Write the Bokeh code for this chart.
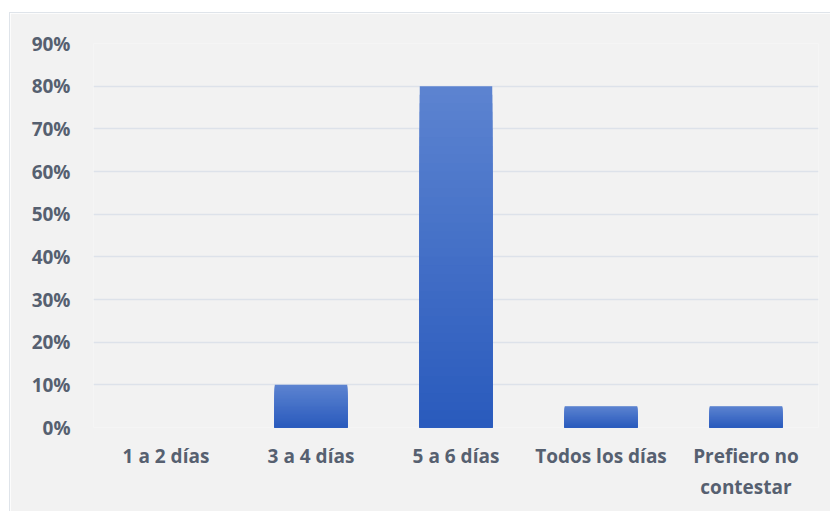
from bokeh.plotting import figure
from bokeh.models import ColumnDataSource, NumeralTickFormatter, FixedTicker, FactorRange, Range1d
from bokeh.embed import file_html
from bokeh.resources import INLINE

categories = ["1 a 2 días", "3 a 4 días", "5 a 6 días", "Todos los días", "Prefiero no\ncontestar"]
values = [0.0, 0.10, 0.80, 0.05, 0.05]
y_ticks = [0.0, 0.1, 0.2, 0.3, 0.4, 0.5, 0.6, 0.7, 0.8, 0.9]

TEXT = "#566070"
BG = "#f2f2f2"

p = figure(width=821, height=499, output_backend="svg", toolbar_location=None,
           x_range=FactorRange(factors=categories, range_padding=0),
           y_range=Range1d(0, 0.9),
           min_border_left=83, min_border_right=13, min_border_top=30, min_border_bottom=85,
           styles={"margin-left": "9px", "margin-top": "12px",
                   "border-left": "1px solid #dfe4ea", "border-top": "1px solid #dfe4ea"})
p.background_fill_color = BG
p.border_fill_color = BG
p.outline_line_color = None

# gradient bars: light at top, dark at bottom
top_rgb = (0x5c, 0x83, 0xd0)
bot_rgb = (0x2a, 0x5b, 0xbd)
N = 40
for i in range(N):
    frac = (N - i) / N
    t = i / (N - 1)
    rgb = tuple(int(round(top_rgb[k] + (bot_rgb[k] - top_rgb[k]) * t)) for k in range(3))
    color = "#%02x%02x%02x" % rgb
    src = ColumnDataSource(dict(x=categories, top=[v * frac for v in values]))
    p.vbar(x="x", top="top", bottom=0, width=0.5, source=src,
           fill_color=color, line_color=None)

p.yaxis.ticker = FixedTicker(ticks=y_ticks)
p.yaxis.formatter = NumeralTickFormatter(format="0%")
p.ygrid.grid_line_color = "#dde2ea"
p.ygrid.grid_line_width = 1.5
p.xgrid.grid_line_color = None

for ax in (p.xaxis, p.yaxis):
    ax.axis_line_color = None
    ax.major_tick_line_color = None
    ax.minor_tick_line_color = None
    ax.major_label_text_font = "Open Sans"
    ax.major_label_text_font_style = "bold"
    ax.major_label_text_font_size = "19px"
    ax.major_label_text_color = TEXT

p.yaxis.major_label_standoff = 17
p.xaxis.major_label_standoff = 9
p.xaxis.major_label_text_line_height = 1.2

open("out.html", "w").write(file_html(p, INLINE))
